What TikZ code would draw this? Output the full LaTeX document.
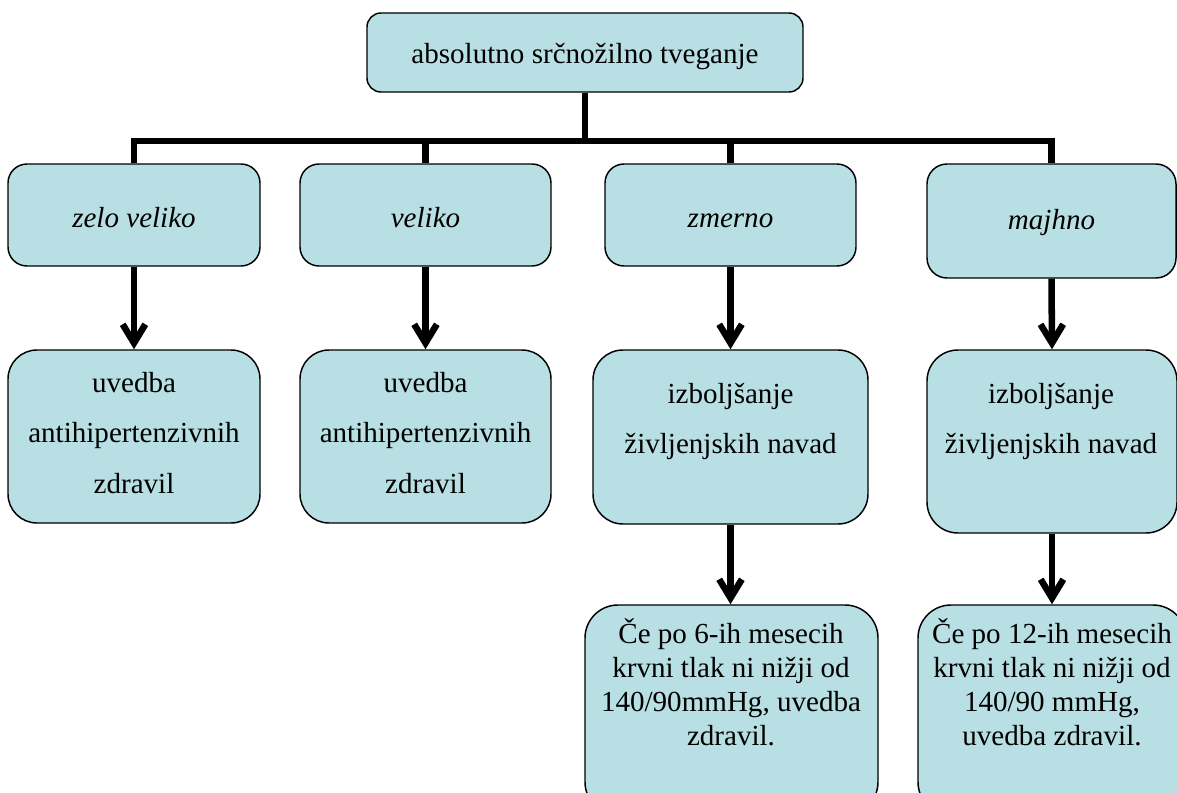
\documentclass[tikz,border=0pt]{standalone}
\usepackage{fontspec}
\setmainfont{Liberation Serif}
\usetikzlibrary{arrows.meta}
\definecolor{boxfill}{RGB}{184,223,227}
\def\px{0.75pt}
% multi-line text block whose base anchor is the first baseline
\newcommand\lines[1]{\begin{tabular}[t]{@{}c@{}}#1\end{tabular}}
\begin{document}
\begin{tikzpicture}[x=0.75pt,y=-0.75pt,
  box/.style={draw=black,line width=1.1pt,fill=boxfill,inner sep=0pt},
  txt/.style={anchor=base,inner sep=0pt,font=\fontsize{21.8pt}{26pt}\selectfont},
  conn/.style={line width=4.9pt,line join=miter,line cap=butt},
  arr/.style={conn,-{Straight Barb[length=14pt,width=17pt,sharp]}}]
\useasboundingbox (0,0) rectangle (1177,792);
\clip (0,0) rectangle (1177,792);
\renewcommand\arraystretch{1}

% top level
\node[box,minimum width=436*\px,minimum height=79*\px,rounded corners=14*\px] (top) at (585,52.5) {};
\node[txt] (ttop) at (585,64) {absolutno srčnožilno tveganje};

% risk categories
\node[box,minimum width=252*\px,minimum height=102*\px,rounded corners=19*\px] (b21) at (134,215) {};
\node[box,minimum width=251*\px,minimum height=102*\px,rounded corners=19*\px] (b22) at (425.5,215) {};
\node[box,minimum width=251*\px,minimum height=102*\px,rounded corners=19*\px] (b23) at (730.5,215) {};
\node[box,minimum width=249*\px,minimum height=114*\px,rounded corners=20*\px] (b24) at (1051.5,221) {};
\node[txt] (t21) at (134,227) {\textit{zelo veliko}};
\node[txt] (t22) at (425.5,227) {\textit{veliko}};
\node[txt] (t23) at (730.5,227) {\textit{zmerno}};
\node[txt] (t24) at (1051.5,229) {\textit{majhno}};

% first measures
\node[box,minimum width=252*\px,minimum height=173*\px,rounded corners=29*\px] (b31) at (134,436.5) {};
\node[box,minimum width=251*\px,minimum height=173*\px,rounded corners=29*\px] (b32) at (425.5,436.5) {};
\node[box,minimum width=275*\px,minimum height=174*\px,rounded corners=30*\px] (b33) at (730.5,437) {};
\node[box,minimum width=250*\px,minimum height=183*\px,rounded corners=31*\px] (b34) at (1052,441.5) {};
\node[txt,font=\fontsize{21.8pt}{38pt}\selectfont] (t31) at (134,392) {\lines{uvedba\\antihipertenzivnih\\zdravil}};
\node[txt,font=\fontsize{21.8pt}{38pt}\selectfont] (t32) at (425.5,392) {\lines{uvedba\\antihipertenzivnih\\zdravil}};
\node[txt,font=\fontsize{21.8pt}{37.5pt}\selectfont] (t33) at (730.5,403) {\lines{izboljšanje\\življenjskih navad}};
\node[txt,font=\fontsize{21.8pt}{37.5pt}\selectfont] (t34) at (1051,403) {\lines{izboljšanje\\življenjskih navad}};

% follow-up
\node[box,minimum width=293*\px,minimum height=210*\px,rounded corners=33*\px] (b43) at (731.5,710) {};
\node[box,minimum width=268*\px,minimum height=210*\px,rounded corners=33*\px] (b44) at (1052,710) {};
\node[txt,font=\fontsize{21.8pt}{25.5pt}\selectfont] (t43) at (731,643) {\lines{Če po 6-ih mesecih\\krvni tlak ni nižji od\\140/90mmHg, uvedba\\zdravil.}};
\node[txt,font=\fontsize{21.8pt}{25.5pt}\selectfont] (t44) at (1052,643) {\lines{Če po 12-ih mesecih\\krvni tlak ni nižji od\\140/90 mmHg,\\uvedba zdravil.}};

% tree connectors
\coordinate (bus) at (585,141);
\draw[conn] (top.south) -- (bus);
\draw[conn] (b21.north) |- (bus) -| (b24.north);
\draw[conn] (b22.north) -- (b22.north |- bus);
\draw[conn] (b23.north) -- (b23.north |- bus);

% arrows
\draw[arr] (b21.south) -- (b31.north);
\draw[arr] (b22.south) -- (b32.north);
\draw[arr] (b23.south) -- (b33.north);
\draw[arr] (b24.south) -- (b34.north);
\draw[arr] (b33.south) -- (b33.south |- b43.north);
\draw[arr] (b34.south) -- (b34.south |- b44.north);
\end{tikzpicture}
\end{document}
